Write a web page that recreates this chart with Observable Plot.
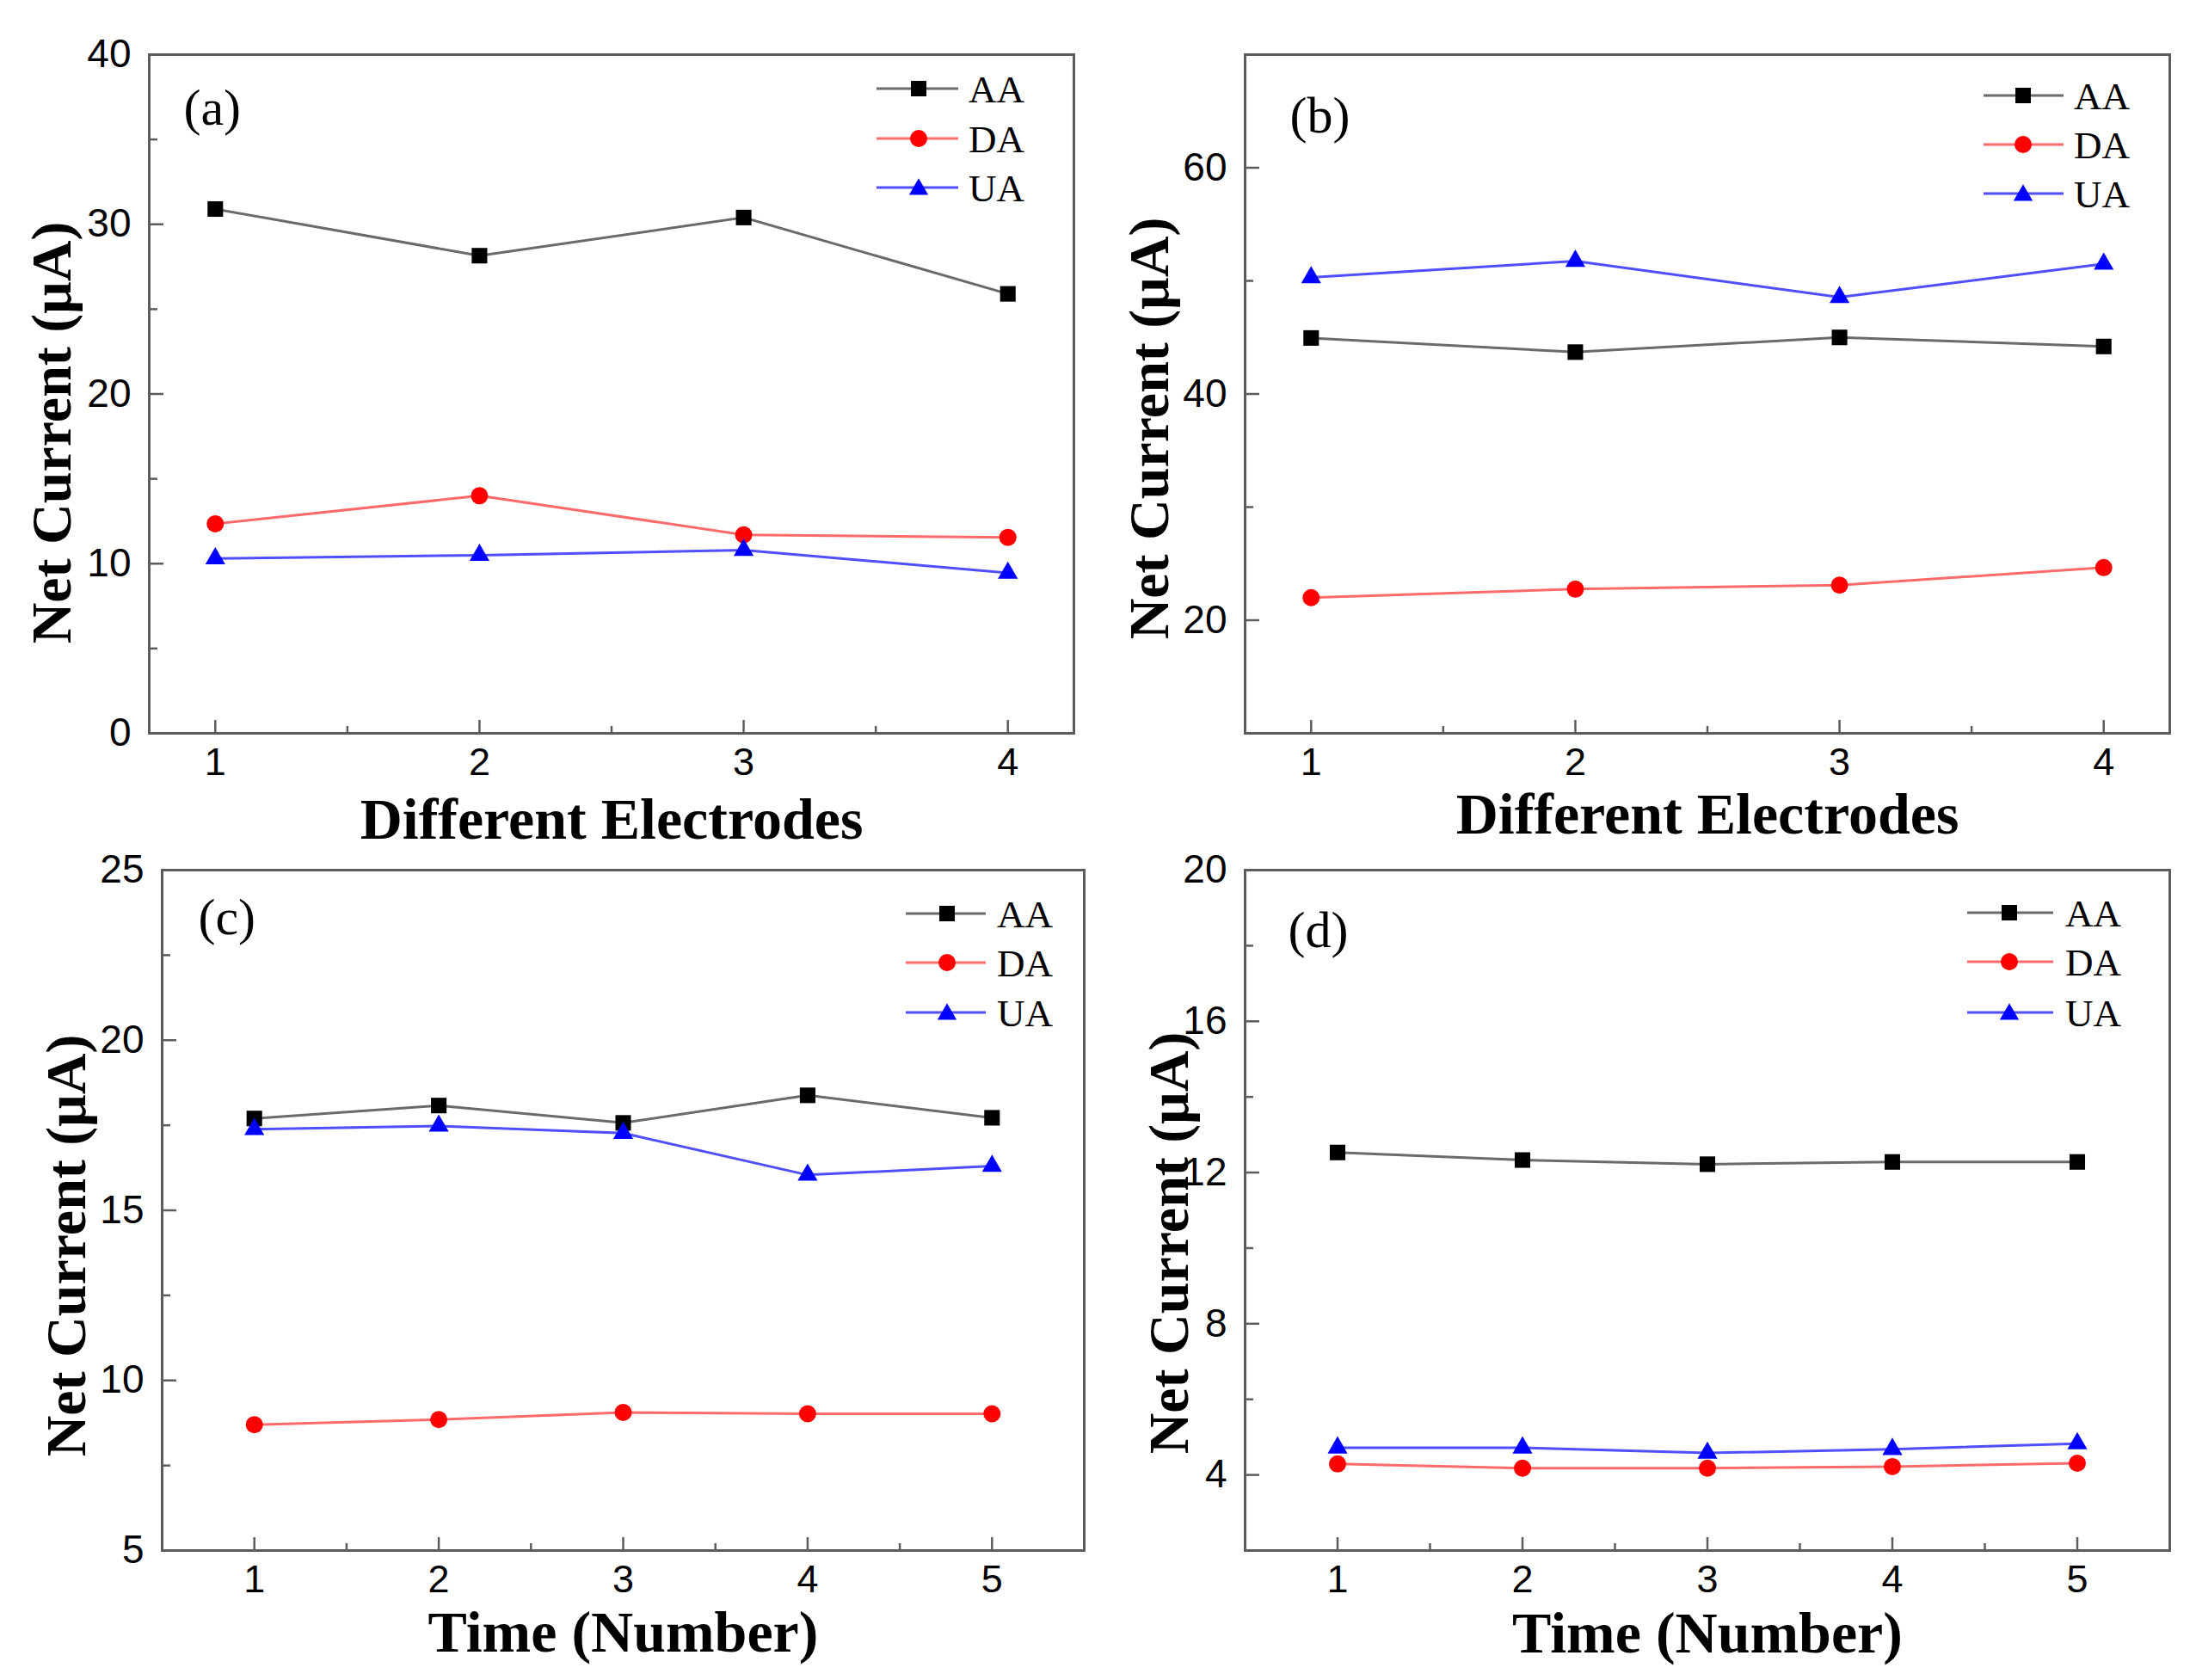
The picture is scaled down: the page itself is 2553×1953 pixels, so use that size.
<!DOCTYPE html>
<html>
<head>
<meta charset="utf-8">
<script src="https://cdn.jsdelivr.net/npm/d3@7"></script>
<script src="https://cdn.jsdelivr.net/npm/@observablehq/plot@0.6"></script>
<style>
  html, body { margin: 0; padding: 0; background: #fff; }
  #page { position: relative; width: 2553px; height: 1953px; background: #fff; overflow: hidden; }
  #page > div { position: absolute; }
  #page svg { background: transparent; overflow: visible; }
  #overlay { position: absolute; left: 0; top: 0; pointer-events: none; }
</style>
</head>
<body>
<div id="page"></div>
<script>
// ---------------- data ----------------
const seriesNames = ["AA", "DA", "UA"];
const electrodes = [1, 2, 3, 4];
const times = [1, 2, 3, 4, 5];

// (a) different electrodes
const aAA = [30.9, 28.15, 30.4, 25.9];
const aDA = [12.35, 14.0, 11.7, 11.55];
const aUA = [10.3, 10.5, 10.8, 9.45];
// (b) different electrodes
const bAA = [44.95, 43.7, 45.0, 44.2];
const bDA = [22.0, 22.75, 23.1, 24.65];
const bUA = [50.3, 51.75, 48.55, 51.5];
// (c) time
const cAA = [17.7, 18.08, 17.57, 18.38, 17.72];
const cDA = [8.7, 8.85, 9.06, 9.02, 9.02];
const cUA = [17.38, 17.48, 17.27, 16.04, 16.3];
// (d) time
const dAA = [12.53, 12.33, 12.22, 12.28, 12.28];
const dDA = [4.29, 4.18, 4.18, 4.22, 4.31];
const dUA = [4.72, 4.72, 4.58, 4.68, 4.83];

// ticks
const xTicks4 = [1, 2, 3, 4];
const xMinor4 = [1.5, 2.5, 3.5];
const xTicks5 = [1, 2, 3, 4, 5];
const xMinor5 = [1.5, 2.5, 3.5, 4.5];
const aTicks = [0, 10, 20, 30, 40], aMinor = [5, 15, 25, 35];
const bTicks = [20, 40, 60], bMinor = [10, 30, 50, 70];
const cTicks = [5, 10, 15, 20, 25], cMinor = [7.5, 12.5, 17.5, 22.5];
const dTicks = [4, 8, 12, 16, 20], dMinor = [2, 6, 10, 14, 18];

const yTitle = "Net Current (μA)";
const xTitleAB = "Different Electrodes";
const xTitleCD = "Time (Number)";
const tags = ["(a)", "(b)", "(c)", "(d)"];

// ---------------- styles ----------------
const SERIF = "'Liberation Serif', 'Times New Roman', Times, serif";
const SANS = "'Liberation Sans', Arial, Helvetica, sans-serif";
const AXIS = "#5c5c5c";
const lineColor = {AA: "#6a6a6a", DA: "#ff6a6a", UA: "#4f4fff"};
const markColor = {AA: "#000000", DA: "#ff0000", UA: "#0000ff"};
const symbolOf = {AA: "square", DA: "circle", UA: "triangle"};
const rOf = {AA: 10.2, DA: 10, UA: 8.6};
const plain = (d) => String(d);
const blank = () => "";

const page = document.getElementById("page");

function makePanel(p) {
  const vals = {AA: p.AA, DA: p.DA, UA: p.UA};
  const marks = [
    Plot.axisX(p.xTicks, {tickSize: 0, tickPadding: 17, fontSize: 45, label: null, color: "#000", fontFamily: SANS, tickFormat: plain}),
    Plot.axisX(p.xTicks, {tickSize: -15, stroke: AXIS, strokeWidth: 2.5, tickFormat: blank, label: null}),
    Plot.axisX(p.xMinor, {tickSize: -8, stroke: AXIS, strokeWidth: 2.5, tickFormat: blank, label: null}),
    Plot.axisY(p.yTicks, {tickSize: 0, tickPadding: 21, fontSize: 46, label: null, color: "#000", fontFamily: SANS, tickFormat: plain}),
    Plot.axisY(p.yTicks, {tickSize: -17, stroke: AXIS, strokeWidth: 2.5, tickFormat: blank, label: null}),
    Plot.axisY(p.yMinor, {tickSize: -10, stroke: AXIS, strokeWidth: 2.5, tickFormat: blank, label: null}),
    Plot.frame({stroke: AXIS, strokeWidth: 3})
  ];
  for (const s of seriesNames) {
    const rows = p.x.map((xv, i) => ({x: xv, v: vals[s][i]}));
    marks.push(Plot.line(rows, {x: "x", y: "v", stroke: lineColor[s], strokeWidth: 3}));
  }
  for (const s of seriesNames) {
    const rows = p.x.map((xv, i) => ({x: xv, v: vals[s][i]}));
    marks.push(Plot.dot(rows, {x: "x", y: "v", symbol: symbolOf[s], fill: markColor[s], stroke: "none", r: rOf[s]}));
  }
  marks.push(Plot.text([yTitle], {frameAnchor: "left", rotate: -90, dx: p.ytDx, dy: p.ytDy,
    fontSize: 66, fontWeight: "bold", fontFamily: SERIF, fill: "#000", textAnchor: "middle", lineAnchor: "middle"}));
  marks.push(Plot.text([p.xTitle], {frameAnchor: "bottom", lineAnchor: "bottom", dy: p.xtDy,
    fontSize: 68, fontWeight: "bold", fontFamily: SERIF, fill: "#000", textAnchor: "middle"}));
  marks.push(Plot.text([p.tag], {frameAnchor: "top-left", textAnchor: "start", lineAnchor: "top",
    dx: p.tagDx, dy: p.tagDy, fontSize: 60, fontFamily: SERIF, fill: "#000"}));

  const chart = Plot.plot({
    width: p.w, height: p.h,
    marginLeft: p.ml, marginRight: p.mr, marginTop: p.mt, marginBottom: p.mb,
    x: {type: "linear", domain: p.xDomain},
    y: {type: "linear", domain: p.yDomain},
    style: {fontFamily: SANS, background: "transparent", color: "#000", overflow: "visible"},
    marks
  });
  // drop the empty label nodes of the tick-only axes
  chart.querySelectorAll("text").forEach((t) => { if (!t.textContent.trim()) t.remove(); });
  const holder = document.createElement("div");
  holder.style.left = p.left + "px";
  holder.style.top = p.top + "px";
  holder.appendChild(chart);
  page.appendChild(holder);
}

makePanel({left: 0, top: 0, w: 1290, h: 990, ml: 173, mr: 42, mt: 63, mb: 138,
  x: electrodes, AA: aAA, DA: aDA, UA: aUA, xTicks: xTicks4, xMinor: xMinor4,
  yTicks: aTicks, yMinor: aMinor, xDomain: [0.75, 4.25], yDomain: [0, 40],
  xTitle: xTitleAB, tag: tags[0], ytDx: -113, ytDy: 45, xtDy: 122, tagDx: 40, tagDy: 39});
makePanel({left: 1290, top: 0, w: 1263, h: 990, ml: 157, mr: 31, mt: 63, mb: 138,
  x: electrodes, AA: bAA, DA: bDA, UA: bUA, xTicks: xTicks4, xMinor: xMinor4,
  yTicks: bTicks, yMinor: bMinor, xDomain: [0.75, 4.25], yDomain: [10, 70],
  xTitle: xTitleAB, tag: tags[1], ytDx: -111, ytDy: 40, xtDy: 116, tagDx: 52, tagDy: 48});
makePanel({left: 0, top: 980, w: 1290, h: 973, ml: 188, mr: 30, mt: 31, mb: 151,
  x: times, AA: cAA, DA: cDA, UA: cUA, xTicks: xTicks5, xMinor: xMinor5,
  yTicks: cTicks, yMinor: cMinor, xDomain: [0.5, 5.5], yDomain: [5, 25],
  xTitle: xTitleCD, tag: tags[2], ytDx: -111, ytDy: 41, xtDy: 117, tagDx: 42, tagDy: 32});
makePanel({left: 1290, top: 980, w: 1263, h: 973, ml: 157, mr: 31, mt: 31, mb: 151,
  x: times, AA: dAA, DA: dDA, UA: dUA, xTicks: xTicks5, xMinor: xMinor5,
  yTicks: dTicks, yMinor: dMinor, xDomain: [0.5, 5.5], yDomain: [2, 20],
  xTitle: xTitleCD, tag: tags[3], ytDx: -88, ytDy: 38, xtDy: 118, tagDx: 50, tagDy: 47});

// ---------------- legends (overlay) ----------------
const legendBoxes = [
  {x1: 1019, x2: 1114, mx: 1068, tx: 1126, rows: [103, 161, 218]},
  {x1: 2306, x2: 2399, mx: 2352, tx: 2411, rows: [111, 168, 225]},
  {x1: 1053, x2: 1146, mx: 1101, tx: 1159, rows: [1062, 1119, 1177]},
  {x1: 2287, x2: 2387, mx: 2336, tx: 2401, rows: [1061, 1118, 1177]}
];
const legendSymbol = {
  AA: d3.symbol(d3.symbolSquare, 18 * 18),
  DA: d3.symbol(d3.symbolCircle, Math.PI * 10 * 10),
  UA: d3.symbol(d3.symbolTriangle, 215)
};
const svg = d3.select(page).append("svg").attr("id", "overlay")
  .attr("width", 2553).attr("height", 1953);
for (const L of legendBoxes) {
  seriesNames.forEach((s, i) => {
    const y = L.rows[i];
    const g = svg.append("g");
    g.append("line").attr("x1", L.x1).attr("x2", L.x2).attr("y1", y).attr("y2", y)
      .attr("stroke", lineColor[s]).attr("stroke-width", 3);
    g.append("path").attr("d", legendSymbol[s]()).attr("transform", `translate(${L.mx},${y + (s === "UA" ? 2 : 0)})`)
      .attr("fill", markColor[s]);
    g.append("text").attr("x", L.tx).attr("y", y).attr("dy", "0.35em")
      .attr("font-family", SERIF).attr("font-size", 45).attr("fill", "#000").text(s);
  });
}
</script>
</body>
</html>
